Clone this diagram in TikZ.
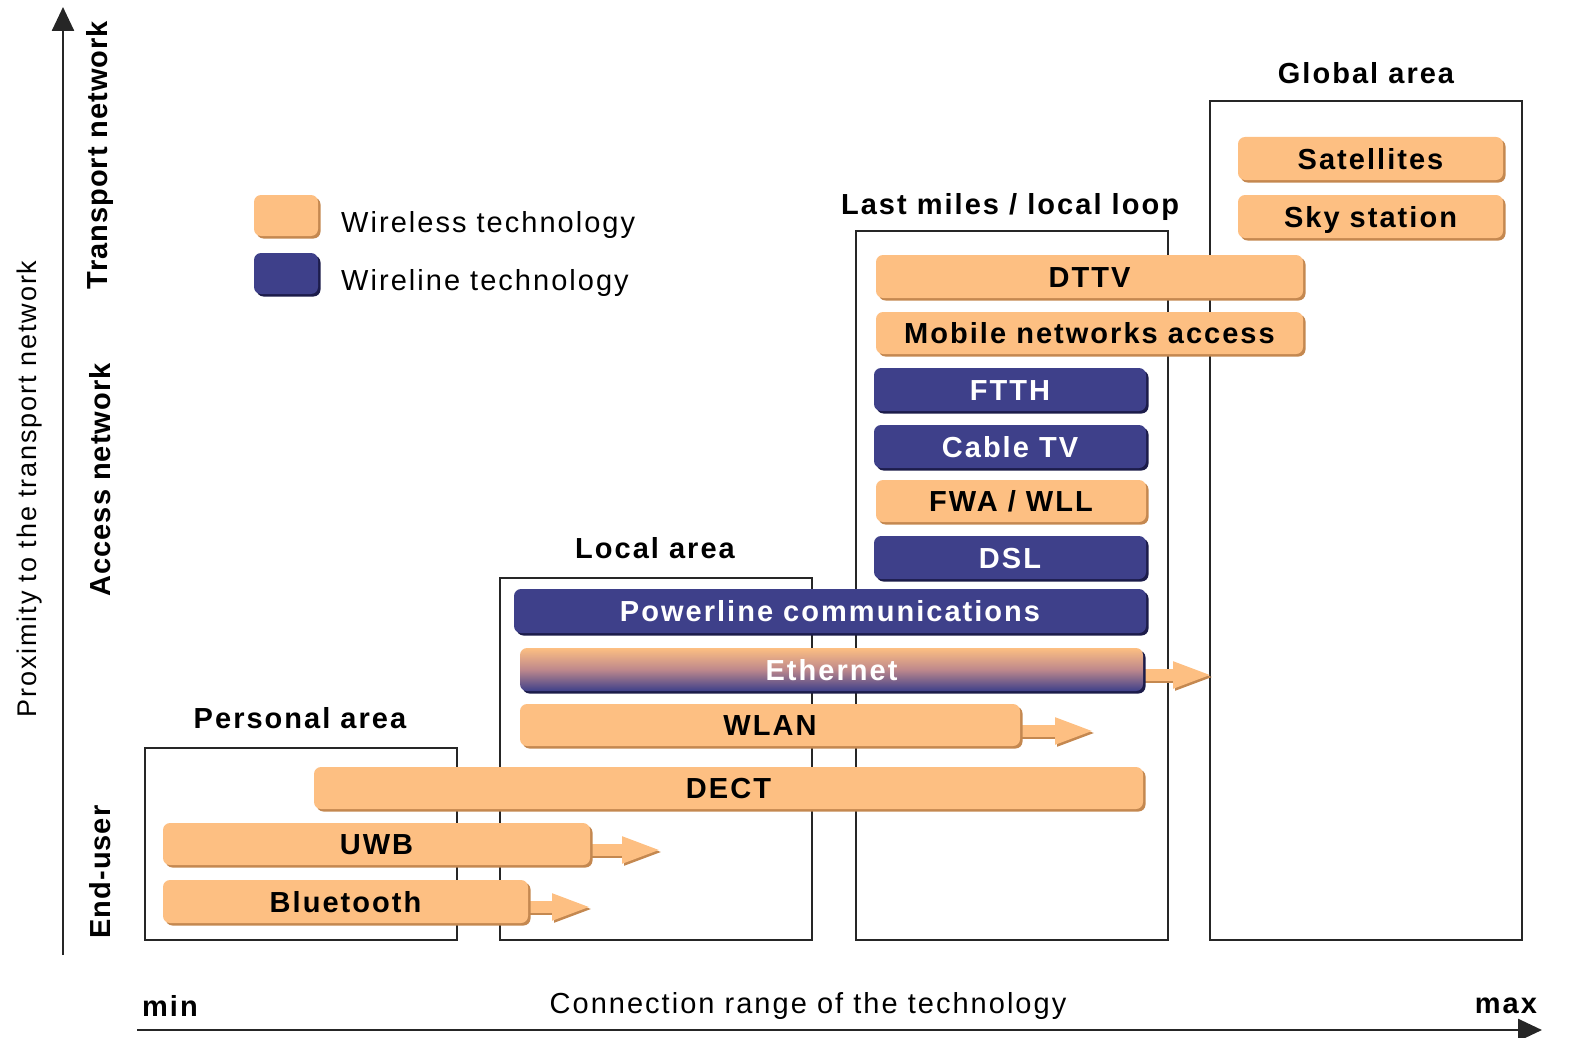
\documentclass[tikz,border=0pt]{standalone}
\usepackage{fontspec}
\setmainfont{Liberation Sans}[LetterSpace=7]
\newfontfamily\tightsans{Liberation Sans}[LetterSpace=3.5]
\usetikzlibrary{shadows,arrows.meta}
\definecolor{wl}{RGB}{253,191,130}
\definecolor{wlshadow}{RGB}{196,136,80}
\definecolor{wd}{RGB}{62,64,138}
\definecolor{wdshadow}{RGB}{28,28,74}
\definecolor{mauve}{RGB}{190,136,140}

% a technology bar given by its left, top, right and bottom edges
\newcommand\techbar[7]{\node[#2, minimum width={(#5-#3)*1pt}, minimum height={(#6-#4)*1pt}] (#1) at ({(#3+#5)/2},{(#4+#6)/2}) {#7};}
% an area frame given by its edges
\newcommand\areaframe[5]{\node[areabox, minimum width={(#4-#2)*1pt}, minimum height={(#5-#3)*1pt}] (#1) at ({(#2+#4)/2},{(#3+#5)/2}) {};}

\begin{document}
\begin{tikzpicture}[x=1pt,y=-1pt,
  txt/.style={font=\fontsize{29}{34}\selectfont, inner sep=0pt},
  btxt/.style={font=\fontsize{29}{34}\selectfont\bfseries, inner sep=0pt},
  vtxt/.style={font=\fontsize{29}{34}\selectfont\tightsans\bfseries, inner sep=0pt, rotate=90},
  areabox/.style={draw=black!85, line width=1.8pt, inner sep=0pt},
  barbase/.style={rounded corners=7pt, inner sep=0pt, text height=21pt, text depth=0pt, font=\fontsize{29}{34}\selectfont\bfseries},
  wless/.style={barbase, fill=wl, general shadow={fill=wlshadow, shadow xshift=2.5pt, shadow yshift=-2.5pt}},
  wline/.style={barbase, fill=wd, text=white, general shadow={fill=wdshadow, shadow xshift=2.5pt, shadow yshift=-2.5pt}},
  mixed/.style={barbase, top color=wl, bottom color=wd, middle color=mauve, text=white, general shadow={fill=wdshadow, shadow xshift=2.5pt, shadow yshift=-2.5pt}},
  rangearrow/.style={line width=12pt, wl, -{Triangle[length=40pt,width=24pt]}},
  rangeshadow/.style={line width=12pt, wlshadow, -{Triangle[length=40pt,width=24pt]}},
  axis/.style={line width=2.6pt, black!85, -{Triangle[length=24pt,width=22pt]}}
]
\useasboundingbox (0,0) rectangle (1569,1038);

% area frames
\areaframe{personal}{145}{748}{457}{940}
\areaframe{local}{500}{578}{812}{940}
\areaframe{lastmile}{856}{231}{1168}{940}
\areaframe{global}{1210}{101}{1522}{940}

% area titles
\node[btxt] (tpersonal) at (300,718) {Personal area};
\node[btxt] (tlocal) at (655,548) {Local area};
\node[btxt] (tlastmile) at (1010,207) {Last miles / local loop};
\node[btxt] (tglobal) at (1366,73) {Global area};

% range arrows leaving the open-ended bars
\coordinate (uwbtip) at (662,850);
\coordinate (bttip) at (592,907);
\coordinate (wlantip) at (1095,731);
\coordinate (ethtip) at (1213,675);

% technology bars
\techbar{sat}{wless}{1238}{137}{1503}{180}{Satellites}
\techbar{sky}{wless}{1238}{195}{1503}{238}{Sky station}
\techbar{dttv}{wless}{876}{255}{1303}{298}{DTTV}
\techbar{mobile}{wless}{876}{312}{1303}{354}{Mobile networks access}
\techbar{ftth}{wline}{874}{368}{1146}{411}{FTTH}
\techbar{cable}{wline}{874}{425}{1146}{468}{Cable TV}
\techbar{fwa}{wless}{876}{480}{1146}{522}{FWA / WLL}
\techbar{dsl}{wline}{874}{536}{1146}{579}{DSL}
\techbar{power}{wline}{514}{589}{1146}{633}{Powerline communications}

\draw[rangeshadow] ([shift={(2,2)}]1140,675) -- ([shift={(2,2)}]ethtip);
\draw[rangearrow] (1140,675) -- (ethtip);
\techbar{eth}{mixed}{520}{648}{1143}{691}{Ethernet}

\draw[rangeshadow] ([shift={(2,2)}]1015,731) -- ([shift={(2,2)}]wlantip);
\draw[rangearrow] (1015,731) -- (wlantip);
\techbar{wlan}{wless}{520}{704}{1020}{746}{WLAN}

\techbar{dect}{wless}{314}{767}{1143}{809}{DECT}

\draw[rangeshadow] ([shift={(2,2)}]585,850) -- ([shift={(2,2)}]uwbtip);
\draw[rangearrow] (585,850) -- (uwbtip);
\techbar{uwb}{wless}{163}{823}{590}{865}{UWB}

\draw[rangeshadow] ([shift={(2,2)}]523,907) -- ([shift={(2,2)}]bttip);
\draw[rangearrow] (523,907) -- (bttip);
\techbar{bt}{wless}{163}{880}{528}{923}{Bluetooth}

% legend
\techbar{keywl}{wless}{254}{195}{318}{236}{}
\techbar{keywd}{wline}{254}{253}{318}{294}{}
\node[txt, anchor=west] (lwl) at (341,225) {Wireless technology};
\node[txt, anchor=west] (lwd) at (341,283) {Wireline technology};

% axes
\coordinate (yfoot) at (63,955);
\coordinate (ytop) at (63,7);
\coordinate (xfoot) at (137,1030);
\coordinate (xend) at (1542,1030);
\draw[axis] (yfoot) -- (ytop);
\draw[axis] (xfoot) -- (xend);

\node[txt, rotate=90, font=\fontsize{27}{32}\selectfont] (yname) at (30,489) {Proximity to the transport network};
\node[vtxt] (ytransport) at (100,155) {Transport network};
\node[vtxt] (yaccess) at (100,480) {Access network};
\node[vtxt] (yend) at (100,872) {End-user};

\node[btxt] (xmin) at (170,1006) {min};
\node[btxt] (xmax) at (1506,1006) {max};
\node[txt] (xname) at (808,1006) {Connection range of the technology};
\end{tikzpicture}
\end{document}
